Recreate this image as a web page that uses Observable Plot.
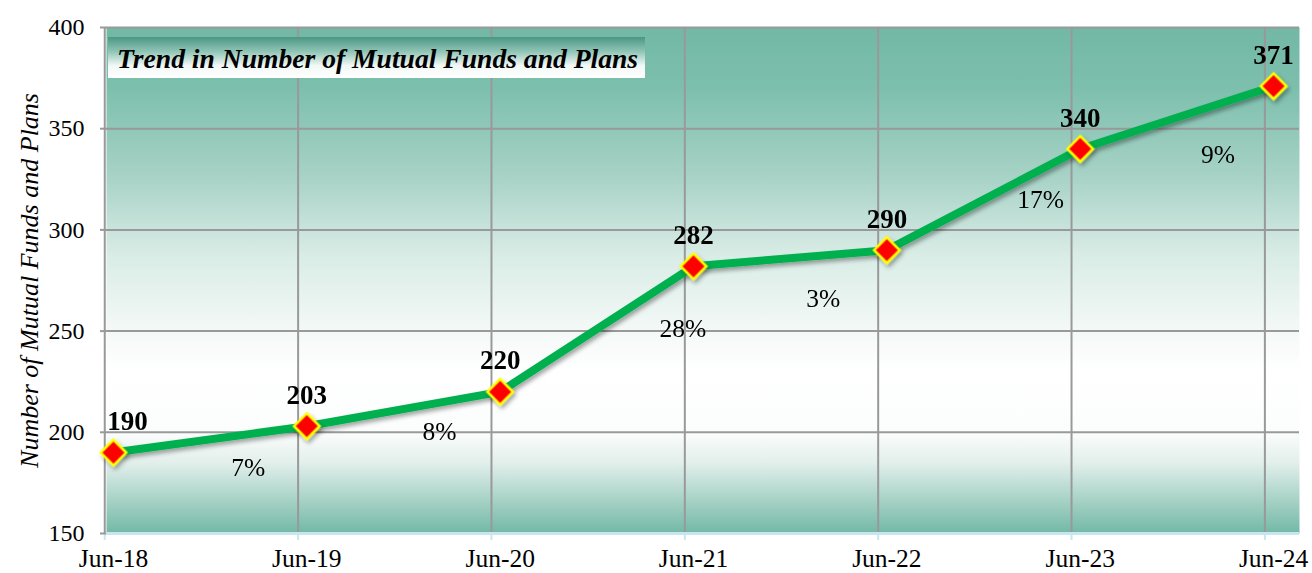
<!DOCTYPE html>
<html>
<head>
<meta charset="utf-8">
<script src="https://cdn.jsdelivr.net/npm/d3@7"></script>
<script src="https://cdn.jsdelivr.net/npm/@observablehq/plot@0.6"></script>
<style>
  html, body { margin: 0; padding: 0; background: #ffffff; }
  #chart { width: 1312px; height: 573px; }
  svg { font-family: "Liberation Serif", "Times New Roman", serif; }
</style>
</head>
<body>
<div id="chart"></div>
<script>
// ---- data ----
const categories = ["Jun-18", "Jun-19", "Jun-20", "Jun-21", "Jun-22", "Jun-23", "Jun-24"];
const counts = [190, 203, 220, 282, 290, 340, 371];
const growthLabels = ["7%", "8%", "28%", "3%", "17%", "9%"];
const yTicks = [150, 200, 250, 300, 350, 400];
const titleText = "Trend in Number of Mutual Funds and Plans";
const yLabel = "Number of Mutual Funds and Plans";

// ---- layout (not data) ----
const W = 1312, H = 573;
const M = {left: 106, right: 13, top: 27, bottom: 40};
const xDomain = [-0.036, 6.134];
const gridShift = -0.045;
const growthOffsets = [[38, 28], [36, 23], [86, 0], [33, 41], [57, 0], [41, 37]];

const points = categories.map((c, i) => ({i, cat: c, v: counts[i]}));
const segments = growthLabels.map((g, k) => ({
  x: k + 0.5, y: (counts[k] + counts[k + 1]) / 2, label: g, dx: growthOffsets[k][0], dy: growthOffsets[k][1]
}));

const chart = Plot.plot({
  width: W, height: H,
  marginLeft: M.left, marginRight: M.right, marginTop: M.top, marginBottom: M.bottom,
  style: {fontFamily: "'Liberation Serif', 'Times New Roman', serif", background: "transparent", overflow: "visible"},
  x: {type: "linear", domain: xDomain},
  y: {domain: [150, 400]},
  marks: [
    Plot.frame({fill: "#ffffff", stroke: "none"}),
    Plot.ruleY(yTicks.filter(t => t > 150), {stroke: "#999999", strokeWidth: 2}),
    Plot.ruleX(categories.map((c, i) => i + gridShift), {stroke: "#999999", strokeWidth: 2}),
    Plot.ruleY([150], {stroke: "#c8e6f0", strokeWidth: 3}),
    Plot.ruleX(categories.map((c, i) => i + gridShift), {y1: 150, y2: 146.6, stroke: "#c8e6f0", strokeWidth: 2}),
    Plot.axisY(yTicks, {tickSize: 6, tickPadding: 16, fontSize: 24, stroke: "#999999", label: null, fill: "#000"}),
    Plot.axisX(categories.map((c, i) => i), {tickSize: 0, tickPadding: 15, fontSize: 25.5, label: null,
      tickFormat: i => categories[i], fill: "#000"}),
    Plot.line(points, {x: "i", y: "v", stroke: "#00b050", strokeWidth: 8, strokeLinejoin: "round", strokeLinecap: "round"}),
    Plot.dot(points, {x: "i", y: "v", symbol: "diamond2", r: 11.5, fill: "#ff0000", stroke: "#ffff00", strokeWidth: 2.5}),
    Plot.text(points.slice(0, 1), {x: "i", y: "v", text: d => String(d.v), dx: 14, dy: -31, fontSize: 27, fontWeight: "bold", fill: "#000"}),
    Plot.text(points.slice(1), {x: "i", y: "v", text: d => String(d.v), dy: -31, fontSize: 27, fontWeight: "bold", fill: "#000"}),
    ...segments.map(s => Plot.text([s], {x: "x", y: "y", text: "label", dx: s.dx, dy: s.dy, fontSize: 25.5, fill: "#000"})),
    Plot.text([yLabel], {frameAnchor: "left", textAnchor: "middle", rotate: -90, dx: -77, fontSize: 26, fontStyle: "italic", fill: "#000", text: d => d})
  ]
});

document.getElementById("chart").appendChild(chart);

// gradients and decorations
const svg = d3.select(chart);
const defs = svg.insert("defs", ":first-child");
const bg = defs.append("linearGradient").attr("id", "bgGrad").attr("x1", 0).attr("y1", 0).attr("x2", 0).attr("y2", 1);
[[0, "#72b8a5"], [0.12, "#7dbfad"], [0.3, "#a9d3c7"], [0.45, "#d9ece6"], [0.6, "#f4f9f7"], [0.68, "#ffffff"], [0.8, "#fbfdfc"], [0.86, "#e2efeb"], [1, "#72b8a5"]]
  .forEach(([o, c]) => bg.append("stop").attr("offset", o).attr("stop-color", c));
const tg = defs.append("linearGradient").attr("id", "titleGrad").attr("x1", 0).attr("y1", 0).attr("x2", 0).attr("y2", 1);
[[0, "#4a9783"], [0.35, "#8fc4b5"], [0.7, "#f2f8f6"], [1, "#ffffff"]]
  .forEach(([o, c]) => tg.append("stop").attr("offset", o).attr("stop-color", c));
const sh = defs.append("filter").attr("id", "shadow").attr("x", "-50%").attr("y", "-50%").attr("width", "200%").attr("height", "200%");
sh.append("feDropShadow").attr("dx", 2).attr("dy", 3).attr("stdDeviation", 2).attr("flood-color", "#000").attr("flood-opacity", 0.35);

const frameEl = svg.select('[aria-label="frame"]');
(frameEl.node() && frameEl.node().tagName.toLowerCase() === "rect" ? frameEl : frameEl.select("rect")).attr("fill", "url(#bgGrad)");
svg.select('[aria-label="dot"]').attr("filter", "url(#shadow)");
svg.select('[aria-label="line"]').attr("filter", "url(#shadow)");
svg.selectAll('[aria-label="y-axis tick"] path').attr("stroke-width", 2);

// title box inside the frame
const tgG = svg.append("g").attr("class", "title-box");
tgG.append("rect").attr("x", M.left + 2).attr("y", M.top + 10).attr("width", 537).attr("height", 41).attr("fill", "url(#titleGrad)");
tgG.append("text").attr("x", M.left + 11).attr("y", M.top + 41).attr("text-anchor", "start")
  .attr("font-size", 27.6).attr("font-weight", "bold").attr("font-style", "italic").attr("fill", "#000")
  .text(titleText);
</script>
</body>
</html>
